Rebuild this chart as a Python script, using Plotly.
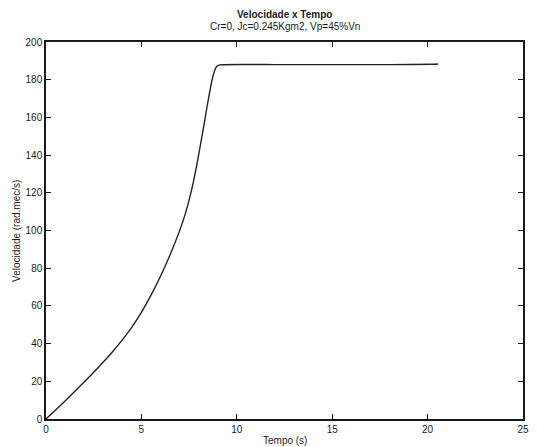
import plotly.graph_objects as go

# Data
tempo = [0.0, 0.5, 1.0, 1.5, 2.0, 2.5, 3.0, 3.5, 4.0, 4.5, 5.0, 5.5, 6.0, 6.5, 7.0, 7.3, 7.6, 7.9, 8.2, 8.5, 8.7, 8.85, 8.95, 9.1, 12.0, 15.0, 18.0, 20.3, 20.55]
velocidade = [0.0, 4.75, 9.6, 14.55, 19.6, 24.8, 30.2, 35.85, 41.95, 48.75, 56.55, 65.55, 75.75, 87.05, 99.8, 108.8, 120.2, 134.6, 151.4, 169.1, 179.7, 185.1, 187.1, 187.9, 188.0, 188.0, 188.0, 188.2, 188.3]

x_ticks = [0, 5, 10, 15, 20, 25]
y_ticks = [0, 20, 40, 60, 80, 100, 120, 140, 160, 180, 200]

title_main = "Velocidade x Tempo"
title_sub = "Cr=0, Jc=0.245Kgm2, Vp=45%Vn"
x_label = "Tempo (s)"
y_label = "Velocidade (rad.mec/s)"

FONT = "Liberation Sans, Arial, sans-serif"
INK = "#1a1a1a"

fig = go.Figure()
fig.add_trace(go.Scatter(
    x=tempo, y=velocidade, mode="lines",
    line=dict(color="#222222", width=1.4, shape="spline", smoothing=0.4),
    showlegend=False, hoverinfo="skip",
))

axis_common = dict(
    showgrid=False, zeroline=False,
    showline=True, linecolor=INK, linewidth=1.5, mirror="allticks",
    ticks="inside", ticklen=5, tickwidth=1, tickcolor=INK,
    tickfont=dict(family=FONT, size=10, color=INK),
)

fig.update_layout(
    width=537, height=447,
    margin=dict(l=46, r=8, t=42, b=28),
    paper_bgcolor="white", plot_bgcolor="white",
    xaxis=dict(range=[0, 25], tickvals=x_ticks, ticktext=[str(v) for v in x_ticks], **axis_common),
    yaxis=dict(range=[0, 200], tickvals=y_ticks, ticktext=[str(v) for v in y_ticks], **axis_common),
    annotations=[
        dict(text="<b>" + title_main + "</b>", xref="paper", yref="paper", x=0.5, y=1.074,
             showarrow=False, xanchor="center", yanchor="middle",
             font=dict(family=FONT, size=10, color=INK)),
        dict(text=title_sub, xref="paper", yref="paper", x=0.5, y=1.040,
             showarrow=False, xanchor="center", yanchor="middle",
             font=dict(family=FONT, size=10, color=INK)),
        dict(text=x_label, xref="paper", yref="paper", x=0.5, y=-0.058,
             showarrow=False, xanchor="center", yanchor="middle",
             font=dict(family=FONT, size=10, color=INK)),
        dict(text=y_label, xref="paper", yref="paper", x=-0.062, y=0.5,
             showarrow=False, xanchor="center", yanchor="middle", textangle=-90,
             font=dict(family=FONT, size=10, color=INK)),
    ],
)

fig.write_html("out.html")
